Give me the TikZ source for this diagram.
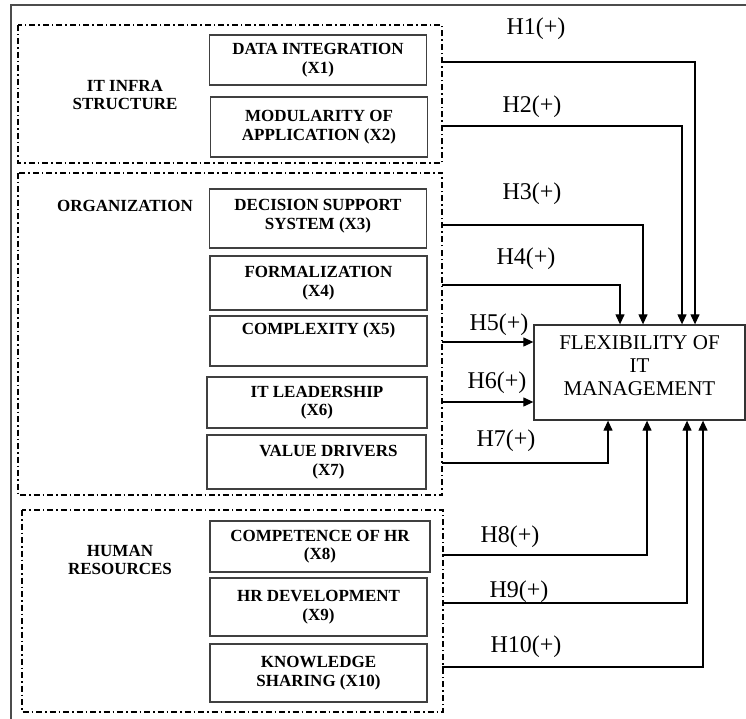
\documentclass[tikz,border=0pt]{standalone}
\usepackage{fontspec}
\setmainfont{Liberation Serif}
\usetikzlibrary{arrows.meta,positioning}
\begin{document}
\begin{tikzpicture}[x=1pt,y=-1pt,
    var/.style={draw=black!75,line width=1.2pt,minimum width=217pt,inner sep=1pt,align=center,font=\bfseries\fontsize{17}{18.5}\selectfont},
    grp/.style={line width=1.1pt,dash pattern=on 6pt off 3pt on 1.5pt off 3pt},
    glab/.style={align=center,font=\bfseries\fontsize{17}{18.5}\selectfont},
    hyp/.style={font=\fontsize{24}{26}\selectfont,inner sep=0pt},
    link/.style={line width=1.2pt},
    arr/.style={link,-{Triangle[length=10pt,width=9pt]}}]
    \useasboundingbox (0,0) rectangle (746,719);
    \draw[line width=1.2pt,black!70] (11,719) -- (11,5) -- (746,5);
    % groups
    \draw[grp] (18,25) rectangle (442,163);
    \draw[grp] (18,173) rectangle (442,495);
    \draw[grp] (22,510) rectangle (443,712);
    \node[glab] (g1) at (125,95) {IT INFRA\\STRUCTURE};
    \node[glab] (g2) at (125,206) {ORGANIZATION};
    \node[glab] (g3) at (120,560) {HUMAN\\RESOURCES};
    % variables
    \node[var,minimum height=50pt] (x1) at (318,60) {DATA INTEGRATION\\(X1)};
    \node[var,minimum height=60pt] (x2) at (319,127) {MODULARITY OF\\APPLICATION (X2)};
    \node[var,minimum height=59pt,text depth=8pt] (x3) at (318,218.5) {DECISION SUPPORT\\SYSTEM (X3)};
    \node[var,minimum height=54pt] (x4) at (318.5,283) {FORMALIZATION\\(X4)};
    \node[var,minimum height=50pt] (x5) at (318.5,341) {COMPLEXITY (X5)\\\strut};
    \node[var,minimum height=51pt,minimum width=220pt] (x6) at (317,402.5) {IT LEADERSHIP\\(X6)};
    \node[var,minimum height=54pt,minimum width=219pt] (x7) at (316.5,462) {\hspace*{24pt}VALUE DRIVERS\\\hspace*{24pt}(X7)};
    \node[var,minimum height=51pt,minimum width=220pt] (x8) at (320,546.5) {COMPETENCE OF HR\\(X8)};
    \node[var,minimum height=58pt] (x9) at (318.5,607) {HR DEVELOPMENT\\(X9)};
    \node[var,minimum height=58pt] (x10) at (318.5,673) {KNOWLEDGE\\SHARING (X10)};
    % dependent variable
    \node[draw=black!80,line width=1.3pt,minimum width=211pt,minimum height=95pt,align=center,text depth=13pt,
          font=\fontsize{21}{23}\selectfont] (t) at (639.5,372.5) {FLEXIBILITY OF\\IT\\MANAGEMENT};
    % hypotheses
    \coordinate (s1) at (442,62);
    \coordinate (s2) at (442,126);
    \coordinate (s3) at (442,225);
    \coordinate (s4) at (442,285);
    \coordinate (s5) at (442,342);
    \coordinate (s6) at (442,402);
    \coordinate (s7) at (442,463);
    \coordinate (s8) at (442,555);
    \coordinate (s9) at (442,603);
    \coordinate (s10) at (442,667);
    \draw[arr] (s1) -| ([xshift=55.5pt]t.north);
    \draw[arr] (s2) -| ([xshift=42.5pt]t.north);
    \draw[arr] (s3) -| ([xshift=3.5pt]t.north);
    \draw[arr] (s4) -| ([xshift=-19.5pt]t.north);
    \draw[arr] (s5) -- (s5 -| t.west);
    \draw[arr] (s6) -- (s6 -| t.west);
    \draw[arr] (s7) -| ([xshift=-31.5pt]t.south);
    \draw[arr] (s8) -| ([xshift=7.5pt]t.south);
    \draw[arr] (s9) -| ([xshift=47.5pt]t.south);
    \draw[arr] (s10) -| ([xshift=63.5pt]t.south);
    \node[hyp] (h1) at (536,29) {H1(+)};
    \node[hyp] (h2) at (532,107) {H2(+)};
    \node[hyp] (h3) at (532,194) {H3(+)};
    \node[hyp] (h4) at (526,259) {H4(+)};
    \node[hyp] (h5) at (499,325) {H5(+)};
    \node[hyp] (h6) at (497,383) {H6(+)};
    \node[hyp] (h7) at (506,441) {H7(+)};
    \node[hyp] (h8) at (510,537) {H8(+)};
    \node[hyp] (h9) at (519,592) {H9(+)};
    \node[hyp] (h10) at (526,647) {H10(+)};
\end{tikzpicture}
\end{document}
